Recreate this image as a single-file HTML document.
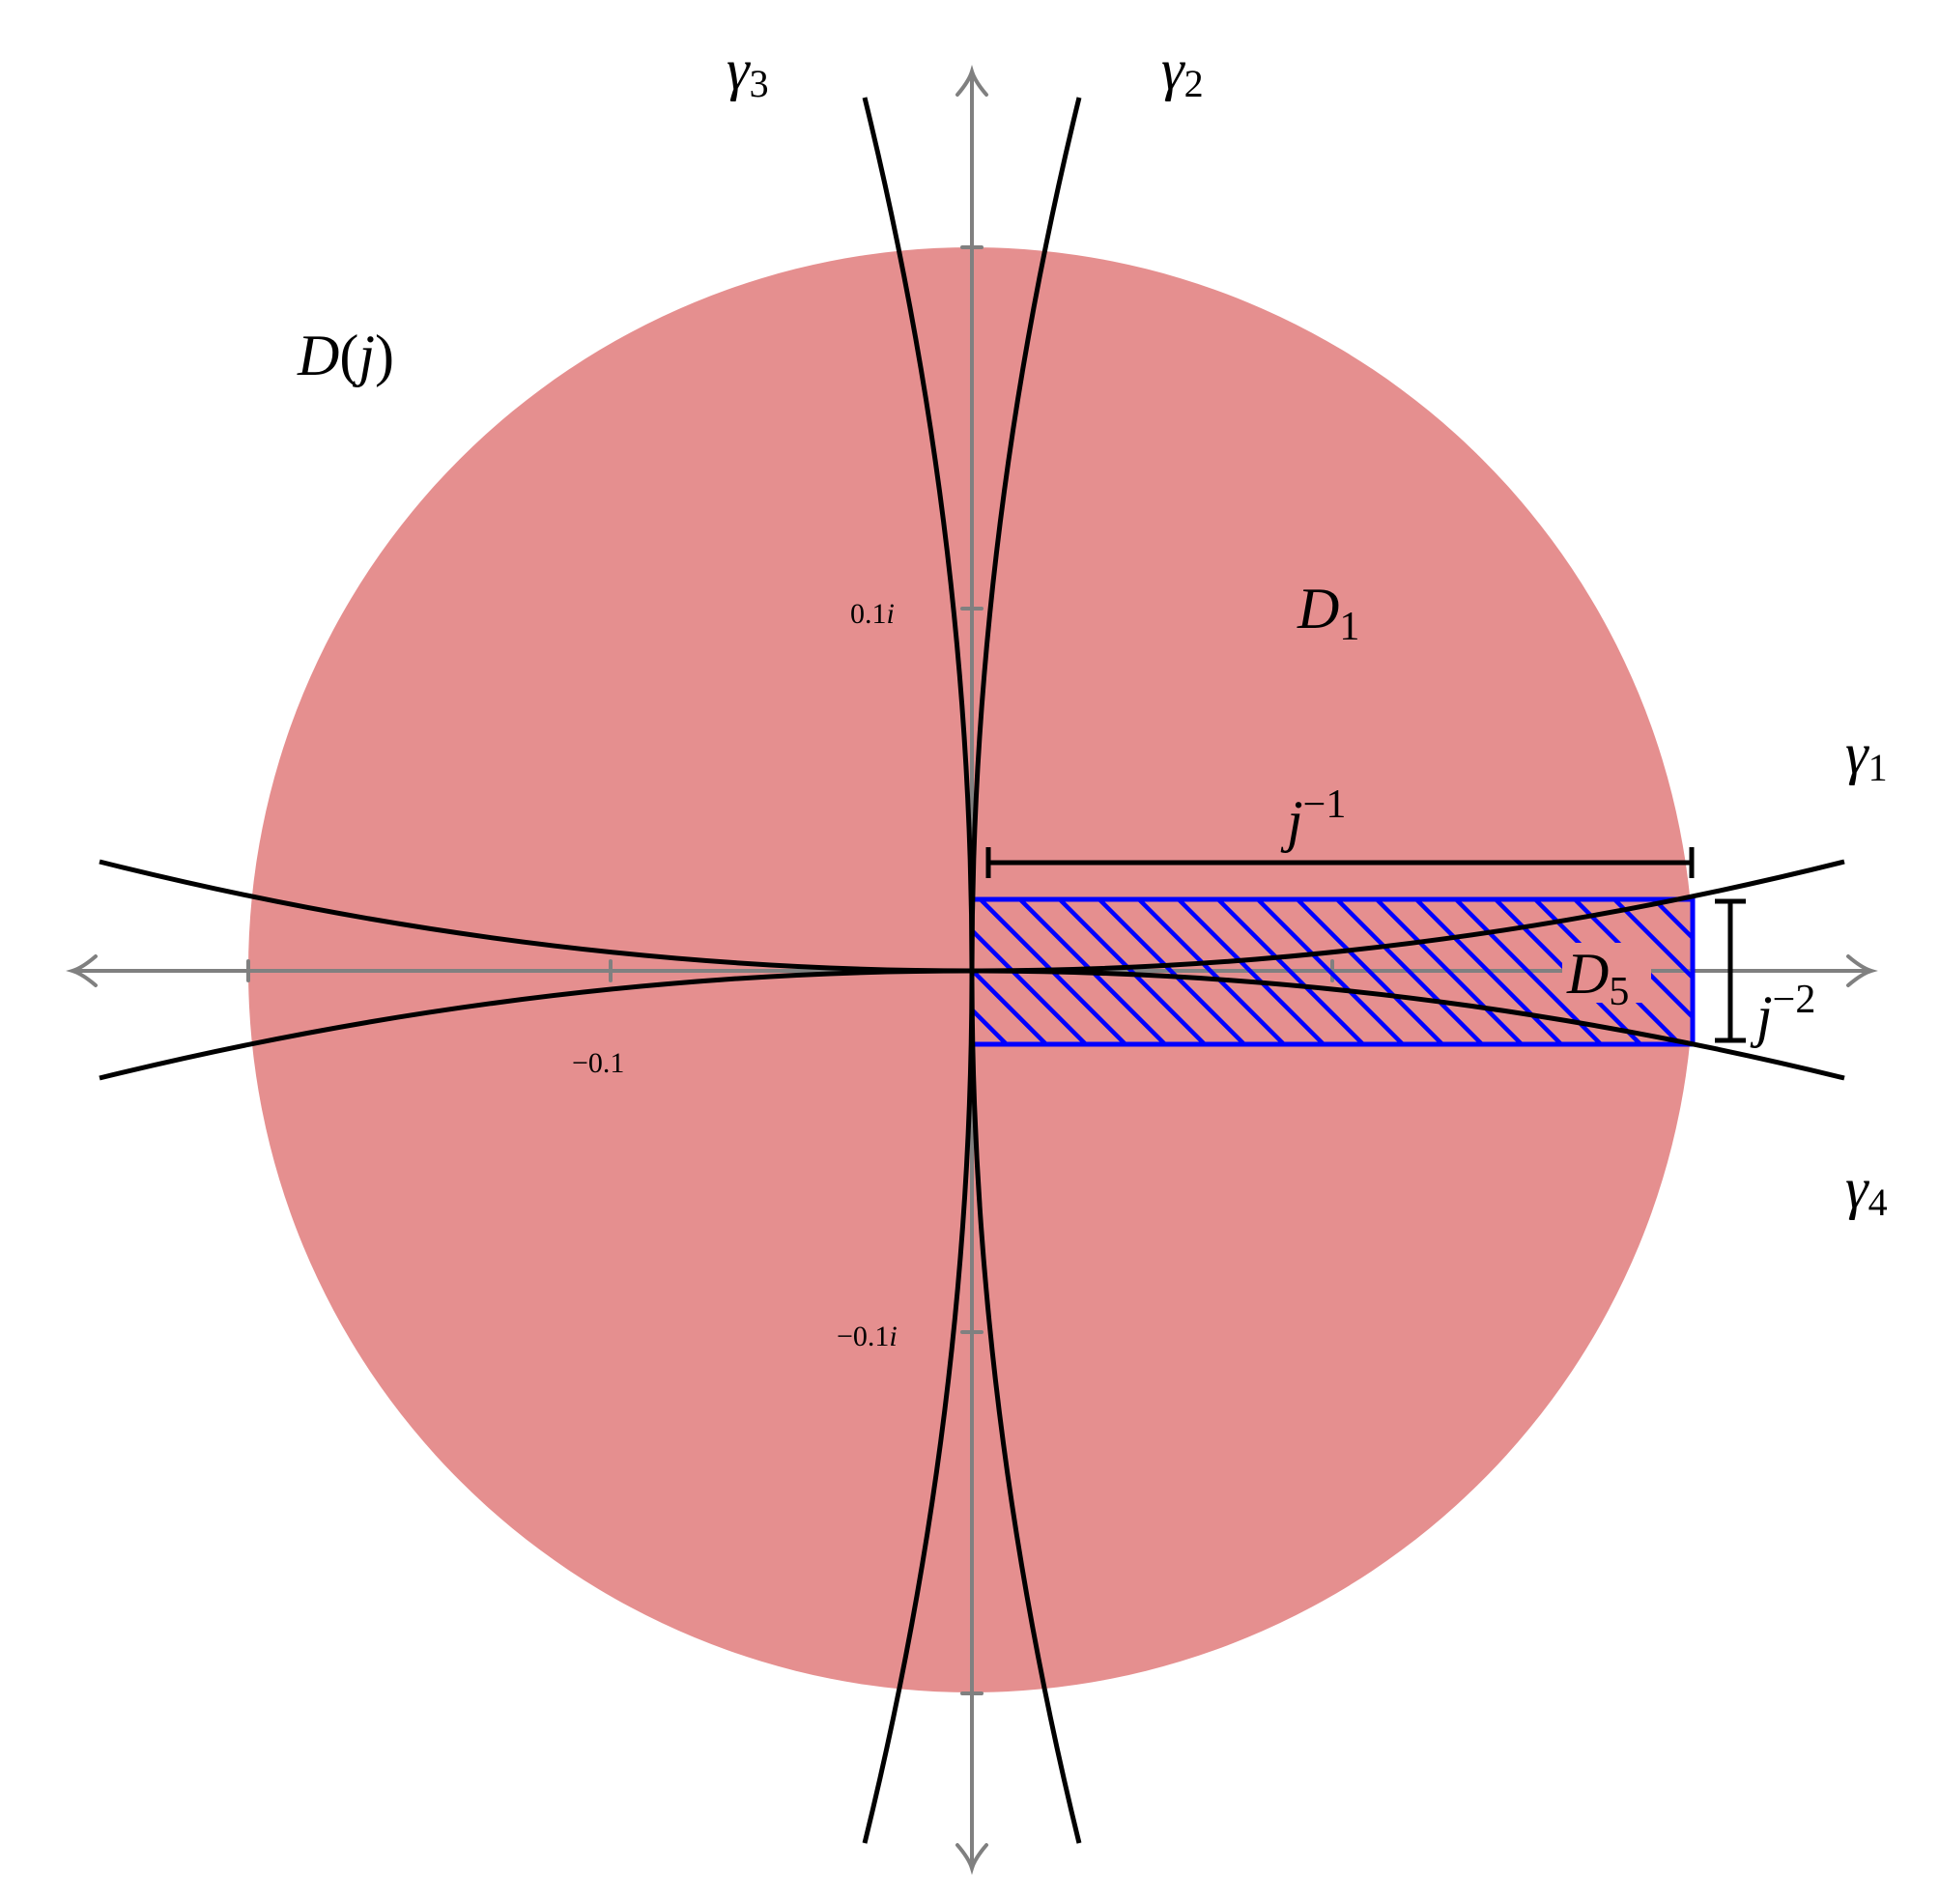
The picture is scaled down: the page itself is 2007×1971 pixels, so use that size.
<!DOCTYPE html>
<html><head><meta charset="utf-8"><style>
html,body{margin:0;padding:0;background:#fff;}
svg text{font-family:"Liberation Serif",serif;font-style:italic;}
</style></head><body>
<svg width="2007" height="1966" viewBox="0 0 2007 1966" xmlns="http://www.w3.org/2000/svg">
<defs>
<pattern id="h" patternUnits="userSpaceOnUse" width="29" height="29" patternTransform="rotate(-45 1011 935)">
<line x1="0" y1="0" x2="0" y2="29" stroke="#0000ff" stroke-width="9"/>
</pattern>
<clipPath id="rc"><rect x="1011" y="935" width="746" height="150"/></clipPath>
</defs>
<g transform="translate(-5,-4)">
<circle cx="1010" cy="1008" r="748" fill="#e58f8f"/>
<g stroke="#808080" stroke-width="4" fill="none" stroke-linecap="round">
<line x1="82" y1="1009" x2="1940" y2="1009"/>
<line x1="1011" y1="80" x2="1011" y2="1936"/>
<path d="M104,994 Q90,1006 80,1009 Q90,1012 104,1024"/>
<path d="M1918,994 Q1932,1006 1942,1009 Q1932,1012 1918,1024"/>
<path d="M996,102 Q1008,88 1011,78 Q1014,88 1026,102"/>
<path d="M996,1914 Q1008,1928 1011,1938 Q1014,1928 1026,1914"/>
<line x1="262" y1="999" x2="262" y2="1019"/>
<line x1="637" y1="999" x2="637" y2="1019"/>
<line x1="1384" y1="999" x2="1384" y2="1019"/>
<line x1="1757" y1="999" x2="1757" y2="1019"/>
<line x1="1001" y1="260" x2="1021" y2="260"/>
<line x1="1001" y1="634" x2="1021" y2="634"/>
<line x1="1001" y1="1383" x2="1021" y2="1383"/>
<line x1="1001" y1="1757" x2="1021" y2="1757"/>
</g>
<rect x="1011" y="935" width="746" height="150" fill="url(#h)" clip-path="url(#rc)"/>
<rect x="1622" y="980" width="92" height="62" fill="#e58f8f"/>
<rect x="1011" y="935" width="746" height="150" fill="none" stroke="#0000ff" stroke-width="5"/>
<g stroke="#000" stroke-width="5" fill="none">
<path d="M1011,1009 Q1462,1009 1914,896"/>
<path d="M1011,1009 Q1462,1009 1914,1120"/>
<path d="M1011,1009 Q560,1009 108,896"/>
<path d="M1011,1009 Q560,1009 108,1120"/>
<path d="M1011,1009 Q1011,557 1122,105"/>
<path d="M1011,1009 Q1011,557 900,105"/>
<path d="M1011,1009 Q1011,1461 1122,1912"/>
<path d="M1011,1009 Q1011,1461 900,1912"/>
<line x1="1028" y1="897" x2="1756" y2="897"/>
<line x1="1028" y1="881" x2="1028" y2="913"/>
<line x1="1756" y1="881" x2="1756" y2="913"/>
<line x1="1796" y1="937" x2="1796" y2="1081"/>
<line x1="1780" y1="937" x2="1812" y2="937"/>
<line x1="1780" y1="1081" x2="1812" y2="1081"/>
</g>
</g>
<g fill="#000" font-size="60">
<text x="752" y="92">γ<tspan font-size="40" font-style="normal" dy="8">3</tspan></text>
<text x="1202" y="92">γ<tspan font-size="40" font-style="normal" dy="8">2</tspan></text>
<text x="1910" y="800">γ<tspan font-size="40" font-style="normal" dy="8">1</tspan></text>
<text x="1910" y="1250">γ<tspan font-size="40" font-style="normal" dy="8">4</tspan></text>
<text x="308" y="388">D<tspan font-style="normal">(</tspan>j<tspan font-style="normal">)</tspan></text>
<text x="1343" y="650">D<tspan font-size="42" font-style="normal" dy="12">1</tspan></text>
<text x="1332" y="870">j<tspan font-size="42" font-style="normal" dy="-24">−1</tspan></text>
<text x="1622" y="1028">D<tspan font-size="42" font-style="normal" dy="12">5</tspan></text>
<text x="1818" y="1072">j<tspan font-size="42" font-style="normal" dy="-24">−2</tspan></text>
</g>
<g fill="#000" font-size="30">
<text x="880" y="645" style="font-style:normal">0.1<tspan style="font-style:italic">i</tspan></text>
<text x="866" y="1393" style="font-style:normal">−0.1<tspan style="font-style:italic">i</tspan></text>
<text x="592" y="1110" style="font-style:normal">−0.1</text>
</g>
</svg>
</body></html>
